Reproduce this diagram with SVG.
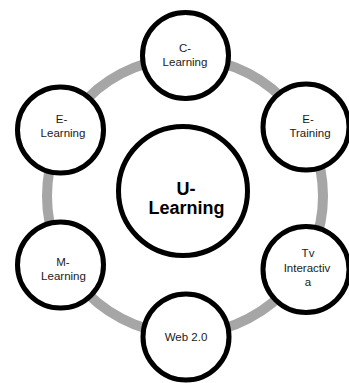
<svg xmlns="http://www.w3.org/2000/svg" width="349" height="383" viewBox="0 0 349 383">
<style>
.node{fill:#fff;stroke:#000;stroke-width:5}
.t{font-family:"Liberation Sans",Arial,sans-serif;font-size:11.5px;fill:#1a1a1a;text-anchor:middle}
.tb{font-family:"Liberation Sans",Arial,sans-serif;font-size:18px;font-weight:bold;fill:#000;text-anchor:middle}
</style>
<rect width="349" height="383" fill="#fff"/>
<g id="connectors">
<circle cx="185" cy="196" r="138" fill="none" stroke="#a6a6a6" stroke-width="10"/>
</g>
<g id="c-learning">
<circle class="node" cx="185.5" cy="55.5" r="43"/>
<text class="t" x="185" y="52">C-</text>
<text class="t" x="185" y="65.5">Learning</text>
</g>
<g id="e-training">
<circle class="node" cx="306" cy="127" r="43"/>
<text class="t" x="308" y="123">E-</text>
<text class="t" x="310" y="137">Training</text>
</g>
<g id="tv-interactiva">
<circle class="node" cx="306" cy="269.5" r="43"/>
<text class="t" x="308" y="257">Tv</text>
<text class="t" x="307" y="271.5">Interactiv</text>
<text class="t" x="308" y="286">a</text>
</g>
<g id="web20">
<circle class="node" cx="186" cy="337" r="43"/>
<text class="t" x="186" y="341">Web 2.0</text>
</g>
<g id="m-learning">
<circle class="node" cx="60.5" cy="265" r="43"/>
<text class="t" x="63" y="266">M-</text>
<text class="t" x="63.5" y="280">Learning</text>
</g>
<g id="e-learning">
<circle class="node" cx="60.5" cy="130" r="43"/>
<text class="t" x="61.5" y="123">E-</text>
<text class="t" x="63" y="137">Learning</text>
</g>
<g id="u-learning">
<circle class="node" cx="183" cy="191" r="64.5"/>
<text class="tb" x="186" y="195">U-</text>
<text class="tb" x="186.5" y="214">Learning</text>
</g>
</svg>
